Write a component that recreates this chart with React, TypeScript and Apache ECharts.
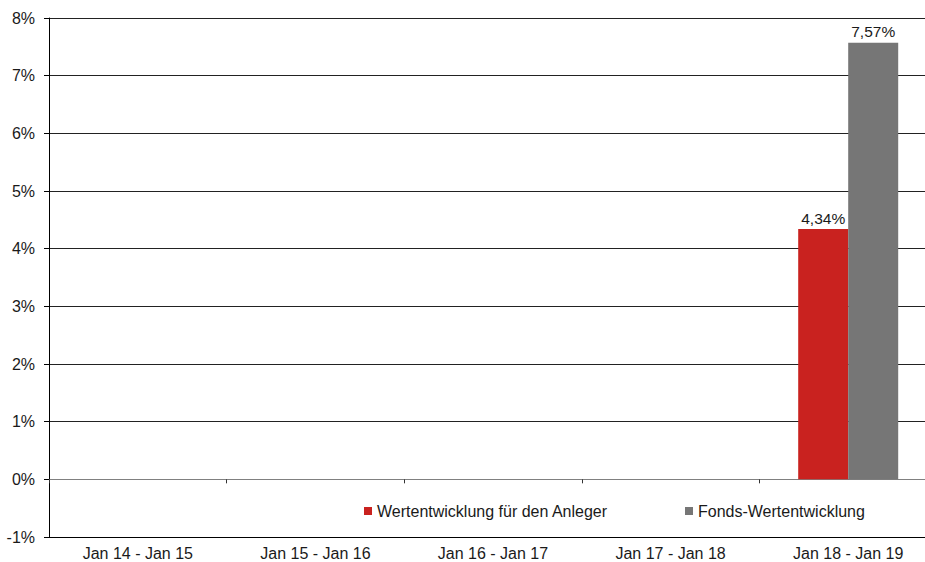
import React, { useEffect, useRef } from "react";
import * as echarts from "echarts";

const categories = ["Jan 14 - Jan 15", "Jan 15 - Jan 16", "Jan 16 - Jan 17", "Jan 17 - Jan 18", "Jan 18 - Jan 19"];
const anlegerValues = [null, null, null, null, 4.34];
const fondsValues = [null, null, null, null, 7.57];
const seriesNames = ["Wertentwicklung für den Anleger", "Fonds-Wertentwicklung"];
const FONT = "'Liberation Sans', Arial, sans-serif";
const TXT = "#1a1a1a";

export default function App() {
  const ref = useRef<HTMLDivElement>(null);
  useEffect(() => {
    if (!ref.current) return;
    const chart = echarts.init(ref.current, null, { renderer: "svg" });
    const fmt = (p: any) => Number(p.value).toFixed(2).replace(".", ",") + "%";
    chart.setOption({
      animation: false,
      textStyle: { fontFamily: FONT },
      grid: { left: 49, top: 18, width: 888, height: 519, containLabel: false },
      legend: [
        {
          data: [seriesNames[0]],
          left: 364,
          top: 503,
          padding: 0,
          icon: "rect",
          itemWidth: 8,
          itemHeight: 8,
          textStyle: { fontSize: 16, color: TXT, fontFamily: FONT },
        },
        {
          data: [seriesNames[1]],
          left: 685,
          top: 503,
          padding: 0,
          icon: "rect",
          itemWidth: 8,
          itemHeight: 8,
          textStyle: { fontSize: 16, color: TXT, fontFamily: FONT },
        },
      ],
      xAxis: [
        {
          type: "category",
          data: categories,
          axisLine: { onZero: true, lineStyle: { color: "#808080", width: 1 } },
          axisTick: { show: true, length: 4, lineStyle: { color: "#333" } },
          axisLabel: { show: false },
          splitLine: { show: false },
        },
        {
          type: "category",
          data: categories,
          position: "bottom",
          axisLine: { onZero: false, show: true, lineStyle: { color: "#000", width: 1 } },
          axisTick: { show: false },
          axisLabel: { show: true, fontSize: 16, color: TXT, margin: 8, fontFamily: FONT },
          splitLine: { show: false },
        },
      ],
      yAxis: {
        type: "value",
        min: -1,
        max: 8,
        interval: 1,
        axisLine: { show: true, onZero: false, lineStyle: { color: "#000", width: 1 } },
        axisTick: { show: true, length: 5, lineStyle: { color: "#000" } },
        axisLabel: {
          fontSize: 16,
          color: TXT,
          margin: 14,
          fontFamily: FONT,
          formatter: (v: number) => v + "%",
        },
        splitLine: { show: true, lineStyle: { color: "#222", width: 1 } },
      },
      series: [
        {
          name: seriesNames[0],
          type: "bar",
          xAxisIndex: 0,
          data: anlegerValues,
          barWidth: 50,
          barGap: "0%",
          itemStyle: { color: "#C9221F" },
          label: { show: true, position: "top", distance: 3, fontSize: 15.5, color: TXT, fontFamily: FONT, formatter: fmt },
        },
        {
          name: seriesNames[1],
          type: "bar",
          xAxisIndex: 0,
          data: fondsValues,
          barWidth: 50,
          barGap: "0%",
          itemStyle: { color: "#767676" },
          label: { show: true, position: "top", distance: 3, fontSize: 15.5, color: TXT, fontFamily: FONT, formatter: fmt },
        },
      ],
    });
    return () => chart.dispose();
  }, []);
  return (
    <div style={{ position: "absolute", left: 0, top: 0, width: 925, height: 562, overflow: "hidden" }}>
      <div ref={ref} style={{ width: 945, height: 562 }} />
    </div>
  );
}
